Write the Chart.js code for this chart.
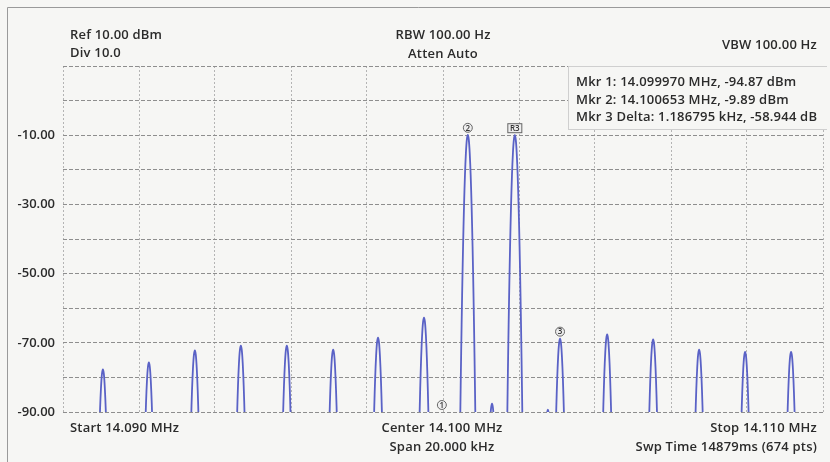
<!DOCTYPE html>
<html>
<head>
<meta charset="utf-8">
<script src="https://cdn.jsdelivr.net/npm/chart.js@4.4.1/dist/chart.umd.min.js"></script>
<style>
  body { margin: 0; background: #f6f6f4; }
  #wrap { position: relative; width: 830px; height: 462px; }
  #specChart { position: absolute; left: 0; top: 0; }
  .lbl { position: absolute; font: 600 13px "Open Sans", sans-serif; color: #2b2b2b; line-height: 16px; white-space: nowrap; letter-spacing: 0.2px; }
  .c { transform: translateX(-50%); }
  .r { transform: translateX(-100%); }
  #mkrBox { position: absolute; left: 568px; top: 66px; width: 258px; height: 62px; background: #f6f6f4; border: 1px solid #cfcfcf; border-right: none; }
</style>
</head>
<body>
<div id="wrap">
  <canvas id="specChart" width="830" height="462"></canvas>
  <div id="mkrBox"></div>
  <div class="lbl" style="left:70px;top:26px">Ref 10.00 dBm</div>
  <div class="lbl" style="left:70px;top:44px">Div 10.0</div>
  <div class="lbl c" style="left:443px;top:26px">RBW 100.00 Hz</div>
  <div class="lbl c" style="left:443px;top:45px">Atten Auto</div>
  <div class="lbl r" style="left:817px;top:36px">VBW 100.00 Hz</div>
  <div class="lbl" style="left:576px;top:73px">Mkr 1: 14.099970 MHz, -94.87 dBm</div>
  <div class="lbl" style="left:576px;top:91px">Mkr 2: 14.100653 MHz, -9.89 dBm</div>
  <div class="lbl" style="left:576px;top:108px">Mkr 3 Delta: 1.186795 kHz, -58.944 dB</div>
  <div class="lbl" style="left:70px;top:419px">Start 14.090 MHz</div>
  <div class="lbl c" style="left:442px;top:419px">Center 14.100 MHz</div>
  <div class="lbl c" style="left:442px;top:438px">Span 20.000 kHz</div>
  <div class="lbl r" style="left:817px;top:419px">Stop 14.110 MHz</div>
  <div class="lbl r" style="left:817px;top:438px">Swp Time 14879ms (674 pts)</div>
</div>
<script>
// sweep settings
const startMHz = 14.090;
const stopMHz = 14.110;
const refLevel = 10;
const bottomLevel = -90;

// peaks (MHz, dBm)
const peakFreqs = [14.09105, 14.09226, 14.09347, 14.09468, 14.09589, 14.09711, 14.09829, 14.09950,
  14.100653, 14.10129, 14.10189, 14.10276, 14.10308, 14.10432, 14.10553, 14.10674, 14.10795, 14.10916];
const peakLevels = [-77.7, -75.7, -72.2, -70.8, -70.8, -72.0, -68.5, -62.7,
  -9.9, -87.6, -10.0, -89.3, -68.8, -67.6, -69.0, -72.0, -72.6, -72.6];

// RBW filter skirt: offset from peak (Hz) and dB below peak
const skirtOffsets = [0, 25, 50, 75, 100, 125, 150, 175, 200, 225, 250];
const skirtDrops = [0, 1.3, 5.2, 11.6, 20.6, 32.2, 46.4, 63.1, 82.4, 104.3, 128.8];

// markers
const markerNames = ['1', '2', 'R3', '3'];
const markerFreqs = [14.099970, 14.100653, 14.10189, 14.10308];
const markerLevels = [-94.87, -9.89, -10.0, -68.8];

// y tick labels shown
const yLabels = [-10, -30, -50, -70, -90];

// build the trace from peaks + filter skirt
function buildTrace() {
  const pts = [];
  peakFreqs.forEach((f, i) => {
    for (let k = skirtOffsets.length - 1; k > 0; k--) {
      pts.push({ x: f - skirtOffsets[k] / 1e6, y: peakLevels[i] - skirtDrops[k] });
    }
    for (let k = 0; k < skirtOffsets.length; k++) {
      pts.push({ x: f + skirtOffsets[k] / 1e6, y: peakLevels[i] - skirtDrops[k] });
    }
  });
  return pts;
}

const markerPlugin = {
  id: 'markers',
  afterDatasetsDraw(chart) {
    const { ctx, scales: { x, y }, chartArea } = chart;
    ctx.save();
    ctx.font = '600 8px "Open Sans", sans-serif';
    ctx.textAlign = 'center';
    ctx.textBaseline = 'middle';
    markerNames.forEach((name, i) => {
      const px = x.getPixelForValue(markerFreqs[i]);
      const py = Math.min(y.getPixelForValue(markerLevels[i]), chartArea.bottom) - 7;
      ctx.fillStyle = '#eeeeee';
      ctx.strokeStyle = '#666';
      ctx.lineWidth = 1;
      if (name.length > 1) {
        ctx.fillRect(px - 7, py - 4.5, 14, 9);
        ctx.strokeRect(px - 7, py - 4.5, 14, 9);
      } else {
        ctx.beginPath();
        ctx.arc(px, py, 4.5, 0, Math.PI * 2);
        ctx.fill();
        ctx.stroke();
      }
      ctx.fillStyle = '#333';
      ctx.fillText(name, px, py + 0.5);
    });
    ctx.restore();
  }
};

const framePlugin = {
  id: 'frame',
  beforeDraw(chart) {
    const ctx = chart.ctx;
    ctx.save();
    ctx.strokeStyle = '#9a9a9a';
    ctx.lineWidth = 1;
    ctx.beginPath();
    ctx.moveTo(7.5, 462);
    ctx.lineTo(7.5, 7.5);
    ctx.lineTo(830, 7.5);
    ctx.stroke();
    ctx.restore();
  }
};

const ctx = document.getElementById('specChart').getContext('2d');
new Chart(ctx, {
  type: 'line',
  data: {
    datasets: [{
      data: buildTrace(),
      borderColor: '#5a62c6',
      borderWidth: 1.8,
      pointRadius: 0,
      tension: 0.3,
      fill: false
    }]
  },
  options: {
    responsive: false,
    animation: false,
    layout: { padding: { left: 0, top: 66, right: 7, bottom: 50 } },
    plugins: { legend: { display: false }, tooltip: { enabled: false } },
    scales: {
      x: {
        type: 'linear',
        min: startMHz,
        max: stopMHz,
        ticks: { display: false, stepSize: 0.002 },
        grid: { color: '#b4b4b4', drawTicks: false },
        border: { display: false, dash: [2, 2] }
      },
      y: {
        min: bottomLevel,
        max: refLevel,
        afterFit: (s) => { s.width = 63; },
        ticks: {
          stepSize: 10,
          padding: 8,
          color: '#2b2b2b',
          font: { family: 'Open Sans', size: 13, weight: '600' },
          callback: (v) => yLabels.includes(v) ? v.toFixed(2) : ''
        },
        grid: { color: '#8e8e8e', drawTicks: false },
        border: { display: false, dash: [4, 2] }
      }
    }
  },
  plugins: [framePlugin, markerPlugin]
});
</script>
</body>
</html>
